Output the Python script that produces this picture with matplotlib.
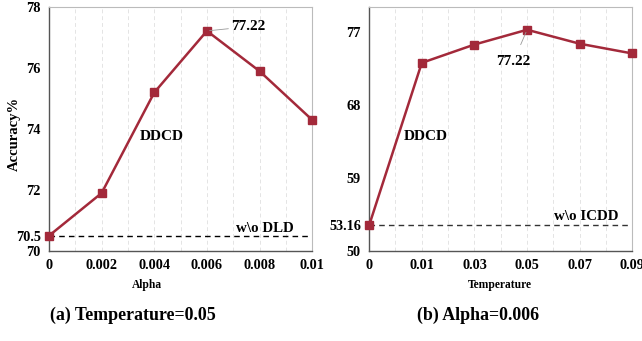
import matplotlib
matplotlib.use("Agg")
import matplotlib.pyplot as plt
from matplotlib.ticker import MultipleLocator

plt.rcParams["font.family"] = ["Liberation Serif", "DejaVu Serif"]
plt.rcParams["font.weight"] = "bold"

alpha_labels = ["0", "0.002", "0.004", "0.006", "0.008", "0.01"]
alpha_acc = [70.5, 71.9, 75.2, 77.22, 75.9, 74.3]
alpha_base = 70.5

temp_labels = ["0", "0.01", "0.03", "0.05", "0.07", "0.09"]
temp_acc = [53.16, 73.15, 75.4, 77.22, 75.5, 74.3]
temp_base = 53.16

red = "#a3293a"

fig = plt.figure(figsize=(6.42, 3.41), dpi=100)
ax1 = fig.add_axes([0.0763, 0.264, 0.410, 0.715])
ax2 = fig.add_axes([0.575, 0.264, 0.410, 0.715])


def style(ax, labels, yticks, ylim):
    xs = range(len(labels))
    ax.set_xlim(0, len(labels) - 1)
    ax.set_ylim(*ylim)
    ax.set_xticks(list(xs))
    ax.set_xticklabels(labels, fontsize=10.3, fontweight="bold")
    ax.set_yticks(yticks)
    ax.set_yticklabels([f"{t:g}" for t in yticks], fontsize=10.3, fontweight="bold")
    ax.xaxis.set_minor_locator(MultipleLocator(0.5))
    ax.tick_params(which="both", length=0, pad=6)
    ax.grid(axis="x", which="both", color="#e4e4e4", ls=(0, (4, 3)), lw=0.7)
    ax.set_axisbelow(True)
    for s in ["left", "bottom"]:
        ax.spines[s].set_color("#555555")
        ax.spines[s].set_linewidth(1.0)
    for s in ["top", "right"]:
        ax.spines[s].set_color("#bbbbbb")
        ax.spines[s].set_linewidth(0.8)


# (a) alpha sweep
xs = list(range(len(alpha_labels)))
ax1.axhline(alpha_base, color="black", ls=(0, (4, 3)), lw=1.0, zorder=2)
ax1.plot(xs, alpha_acc, color=red, lw=1.8, marker="s", ms=6, zorder=3, clip_on=False)
style(ax1, alpha_labels, [70, 70.5, 72, 74, 76, 78], (70, 78))
fig.text(0.022, 0.608, "Accuracy%", fontsize=10.5, fontweight="bold",
         rotation=90, ha="center", va="center")
ax1.text(2.15, 73.74, "DDCD", fontsize=11, fontweight="bold", ha="center", va="center")
ax1.text(4.1, 70.75, "w\\o DLD", fontsize=10.8, fontweight="bold", ha="center", va="center")
ax1.annotate("77.22", xy=(3, 77.22), xytext=(3.46, 77.36), fontsize=11,
             fontweight="bold", ha="left", va="center",
             arrowprops=dict(arrowstyle="-", color="#999999", lw=0.6, shrinkA=0, shrinkB=2))

# (b) temperature sweep
xs = list(range(len(temp_labels)))
ax2.axhline(temp_base, color="#333333", ls=(0, (4, 3)), lw=1.0, zorder=2)
ax2.plot(xs, temp_acc, color=red, lw=1.8, marker="s", ms=6, zorder=3, clip_on=False)
style(ax2, temp_labels, [50, 53.16, 59, 68, 77], (50, 80))
ax2.text(1.08, 64.1, "DDCD", fontsize=11, fontweight="bold", ha="center", va="center")
ax2.text(4.13, 54.3, "w\\o ICDD", fontsize=10.8, fontweight="bold", ha="center", va="center")
ax2.annotate("77.22", xy=(3, 77.22), xytext=(2.74, 73.3), fontsize=11,
             fontweight="bold", ha="center", va="center",
             arrowprops=dict(arrowstyle="-", color="#999999", lw=0.6, shrinkA=6, shrinkB=2))

fig.text(0.2296, 0.164, "Alpha", fontsize=8.3, fontweight="bold", ha="center", va="center")
fig.text(0.779, 0.164, "Temperature", fontsize=8.3, fontweight="bold", ha="center", va="center")
fig.text(0.207, 0.076, "(a) Temperature=0.05", fontsize=12.9, fontweight="bold",
         ha="center", va="center")
fig.text(0.745, 0.076, "(b) Alpha=0.006", fontsize=12.9, fontweight="bold",
         ha="center", va="center")

fig.savefig("out.png", dpi=100)
